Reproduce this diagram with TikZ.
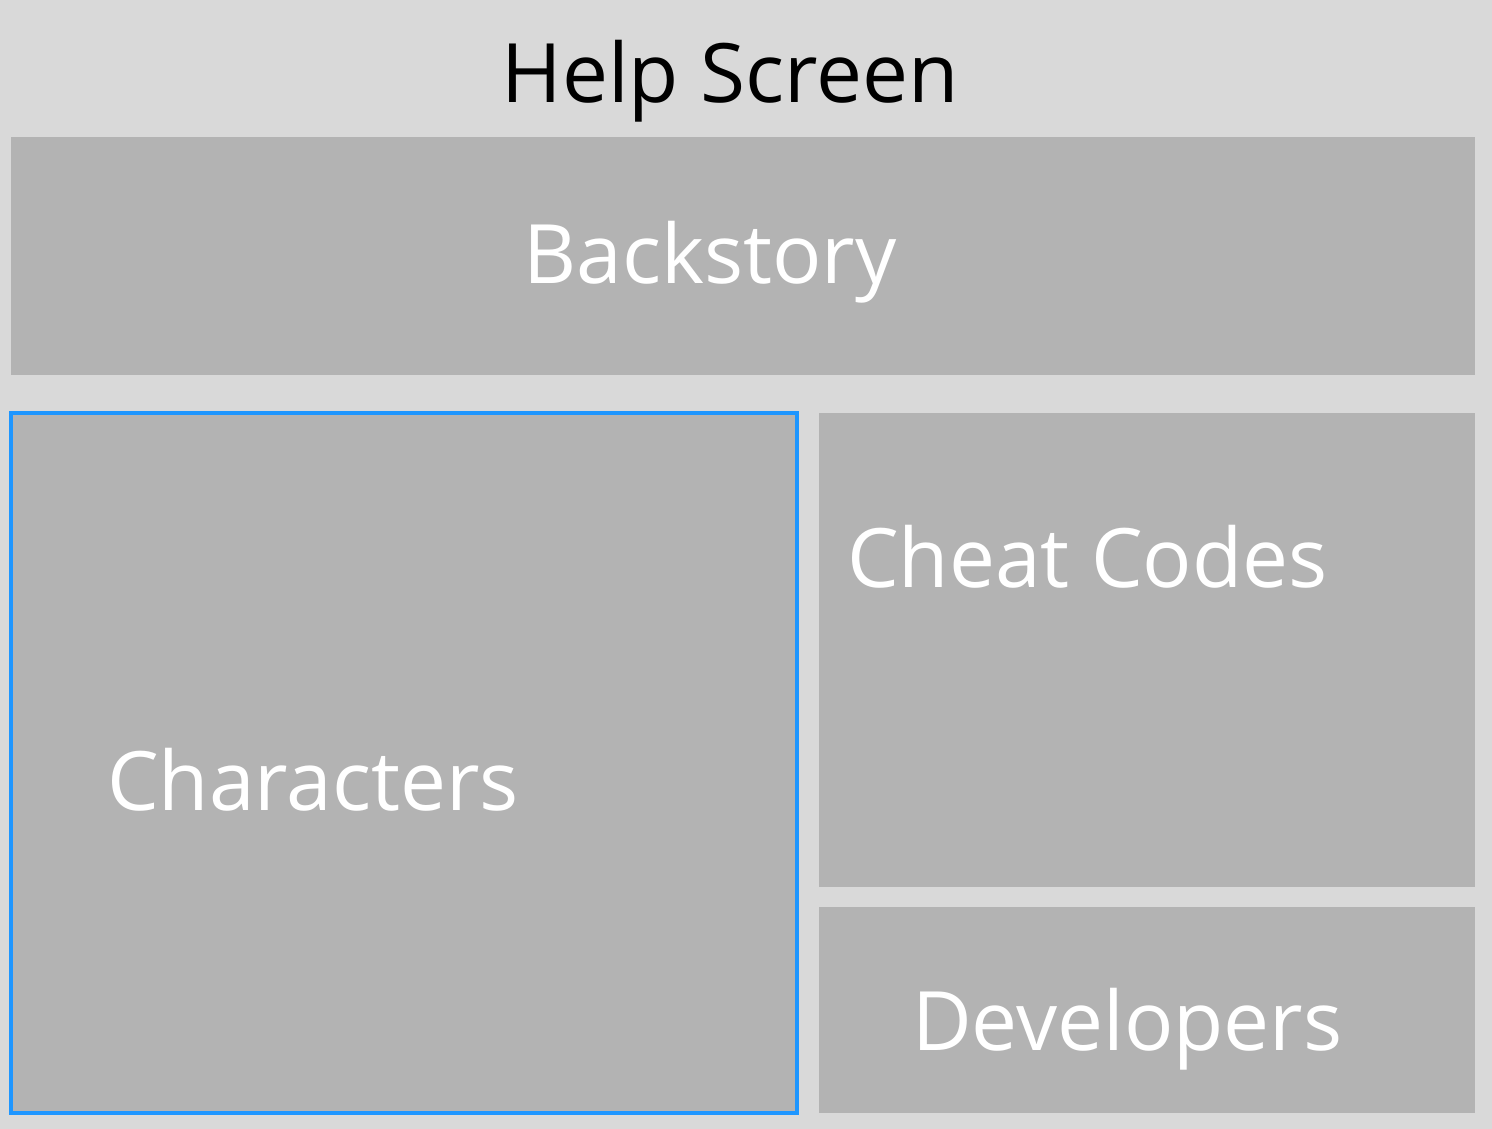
\documentclass[tikz,border=0pt]{standalone}
\usepackage{fontspec}
\setmainfont{Open Sans}
\definecolor{bgcol}{HTML}{D9D9D9}
\definecolor{boxcol}{HTML}{B3B3B3}
\definecolor{selcol}{HTML}{1E96FF}
\begin{document}
\begin{tikzpicture}[x=1pt,y=-1pt,
  panel/.style={fill=boxcol, draw=none, inner sep=0pt, outer sep=0pt, anchor=north west},
  selected/.style={panel, draw=selcol, line width=4pt},
  label/.style={inner sep=0pt, font=\fontsize{82}{96}\selectfont, text=white},
  title/.style={label, text=black}]
  % page background
  \fill[bgcol] (0,0) rectangle (1492,1129);
  \useasboundingbox (0,0) rectangle (1492,1129);
  % title
  \node[title, anchor=base] (ttl) at (730,103) {Help Screen};
  % panels
  \node[panel, minimum width=1464pt, minimum height=238pt] (back) at (11,137) {};
  \node[selected, minimum width=786pt, minimum height=700pt] (chars) at (11,413) {};
  \node[panel, minimum width=656pt, minimum height=474pt] (cheat) at (819,413) {};
  \node[panel, minimum width=656pt, minimum height=206pt] (devs) at (819,907) {};
  % panel labels
  \node[label, anchor=base] (backlbl) at (710,283) {Backstory};
  \node[label, anchor=base west] (charslbl) at (107,810) {Characters};
  \node[label, anchor=base west] (cheatlbl) at (847,587) {Cheat Codes};
  \node[label, anchor=base west] (devslbl) at (912,1050) {Developers};
\end{tikzpicture}
\end{document}
